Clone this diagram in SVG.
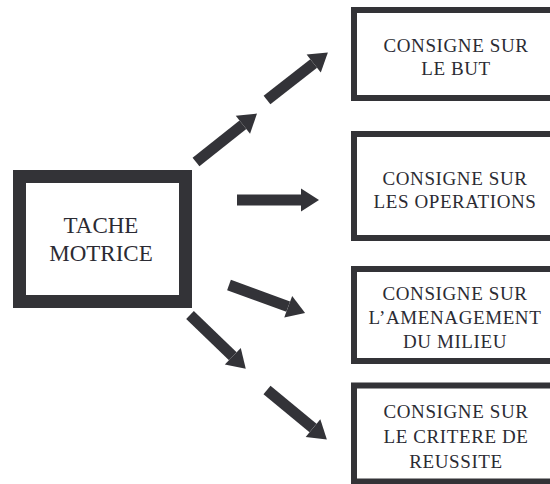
<svg xmlns="http://www.w3.org/2000/svg" width="550" height="484" viewBox="0 0 550 484">
<style>
.box{fill:#fff;stroke:#333337;}
.main{stroke-width:13;}
.sub{stroke-width:6;}
.t{font-family:"Liberation Serif","Times New Roman",serif;fill:#2b2b33;text-anchor:middle;}
.tm{font-size:23px;}
.ts{font-size:19px;letter-spacing:0.6px;}
.arr{stroke:#333338;stroke-width:11;fill:none;marker-end:url(#head);}
</style>
<defs>
<marker id="head" markerUnits="userSpaceOnUse" markerWidth="19" markerHeight="24" refX="0" refY="11.5" orient="auto" overflow="visible">
<path d="M0,0 L18,11.5 L0,23 Z" fill="#333338"/>
</marker>
</defs>
<rect width="550" height="484" fill="#fff"/>
<g id="tache">
<rect class="box main" x="19.5" y="176.5" width="166" height="125"/>
<text class="t tm" x="101" y="233">TACHE</text>
<text class="t tm" x="101" y="261">MOTRICE</text>
</g>
<g id="but">
<rect class="box sub" x="354" y="10" width="210" height="88"/>
<text class="t ts" x="456" y="52">CONSIGNE SUR</text>
<text class="t ts" x="456" y="75">LE BUT</text>
</g>
<g id="operations">
<rect class="box sub" x="354" y="134" width="210" height="104"/>
<text class="t ts" x="455" y="185">CONSIGNE SUR</text>
<text class="t ts" x="455" y="208">LES OPERATIONS</text>
</g>
<g id="amenagement">
<rect class="box sub" x="354" y="269" width="210" height="92"/>
<text class="t ts" x="455" y="300">CONSIGNE SUR</text>
<text class="t ts" x="455" y="324">L’AMENAGEMENT</text>
<text class="t ts" x="455" y="348">DU MILIEU</text>
</g>
<g id="critere">
<rect class="box sub" x="354" y="385.5" width="210" height="96"/>
<text class="t ts" x="456" y="418">CONSIGNE SUR</text>
<text class="t ts" x="456" y="443">LE CRITERE DE</text>
<text class="t ts" x="456" y="468">REUSSITE</text>
</g>
<g id="connectors">
<line class="arr" x1="196" y1="162" x2="242.9" y2="124.8"/>
<line class="arr" x1="267" y1="100" x2="313.7" y2="63.5"/>
<line class="arr" x1="237" y1="200" x2="301" y2="200"/>
<line class="arr" x1="229" y1="285" x2="288.2" y2="306.7"/>
<line class="arr" x1="190" y1="315" x2="232.8" y2="356.2"/>
<line class="arr" x1="267" y1="390" x2="313" y2="428.1"/>
</g>
</svg>
